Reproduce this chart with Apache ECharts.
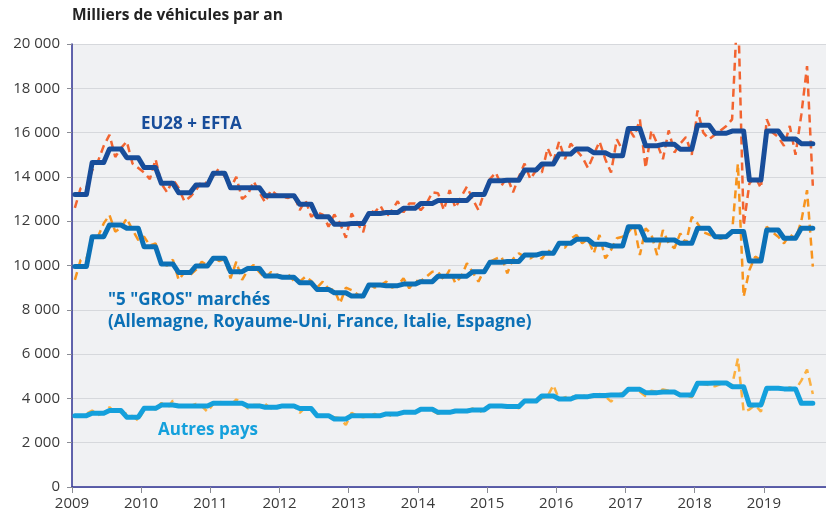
<!DOCTYPE html>
<html><head><meta charset="utf-8">
<script src="https://cdn.jsdelivr.net/npm/echarts@6/dist/echarts.min.js"></script>
<style>html,body{margin:0;padding:0;background:#fff}#c{width:826px;height:517px}</style>
</head><body><div id="c"></div>
<script>
// Monthly series Jan 2009 .. Sep 2019 (thousands of vehicles per year, annualised)
const startYear = 2009;
const yearTicks = [2009,2010,2011,2012,2013,2014,2015,2016,2017,2018,2019];

// Quarterly (seasonally adjusted) levels, 2009Q1 .. 2019Q3
const euQuarterly = [
  13200,14650,15260,14870, 14420,13710,13290,13630, 14160,13510,13510,13150,
  13150,12760,12200,11860, 11900,12350,12390,12580, 12800,12930,12930,13210,
  13830,13850,14310,14580, 15030,15260,15090,14960, 16190,15410,15470,15250,
  16330,15970,16070,13860, 16070,15710,15500];
const bigQuarterly = [
  9950,11300,11830,11680, 10850,10070,9680,9980, 10330,9720,9870,9530,
  9470,9220,8920,8770, 8620,9120,9090,9160, 9270,9520,9520,9720,
  10150,10180,10470,10550, 11000,11180,10960,10880, 11750,11150,11150,11000,
  11680,11300,11530,10200, 11600,11230,11680];
const otherQuarterly = [
  3220,3330,3450,3150, 3550,3700,3660,3660, 3780,3780,3660,3600,
  3660,3540,3220,3070, 3220,3220,3300,3370, 3510,3370,3430,3480,
  3660,3630,3880,4110, 3970,4080,4130,4150, 4410,4260,4290,4150,
  4680,4700,4530,3700, 4460,4430,3780];

// Monthly raw values
const euMonthly = [
  12600,13500,13500,14300,14700,15400,15900,14900,15300,15600,14600,14400,
  14200,13900,14800,13700,13300,13900,13500,12900,13100,13400,13800,13700,
  14000,14400,14000,13500,14000,13000,13200,13800,13300,12850,13400,13200,
  13100,13050,13200,12500,12950,12200,12400,12300,11750,12300,11900,11250,
  12350,11900,11500,12500,12400,12700,12200,12500,12900,12400,12800,12800,
  12500,12800,13300,13260,12500,13400,12600,13100,13560,13000,12500,13300,
  13900,14200,13600,14000,13300,14000,14600,13900,14300,14200,15300,14700,
  15600,14800,15500,15200,14900,14400,15000,15600,14800,14200,15700,15200,
  16200,15800,16600,14400,16100,15500,14800,16100,15100,15500,15800,15000,
  17000,16000,15700,15900,16100,16300,16600,22000,11800,13700,14000,13500,
  16600,16000,15800,15400,16300,15000,16800,19000,13600];
const bigMonthly = [
  9350,10250,10300,11150,11300,11900,12280,11530,11700,12130,11600,11150,
  11300,10900,11000,10100,10000,10260,9350,9700,9570,9800,10170,10000,
  10400,10200,10300,9420,10170,9350,9800,10020,9700,9420,9700,9600,
  9500,9600,9300,9270,9500,9300,9000,9270,8950,8900,8290,9000,
  8890,8700,8520,9200,9000,9100,9270,9000,9100,9420,8970,9300,
  9300,9500,9720,9700,9350,9800,9200,9500,10100,9700,9270,9800,
  10170,10300,10400,9650,10300,10550,10400,10320,10500,10300,10700,10500,
  11000,10800,11200,11380,11000,11200,10550,11380,10320,10700,11230,11300,
  11500,11830,10470,11680,11400,10470,11600,11000,10780,11450,11000,12200,
  11900,11500,11400,11300,11200,11300,11500,14600,8590,9800,10400,10250,
  11750,11500,11300,11000,11400,11200,12000,13400,9950];
const otherMonthly = [
  3250,3200,3300,3450,3250,3350,3600,3350,3400,3300,3200,3000,
  3500,3600,3500,3800,3550,3900,3650,3700,3650,3750,3650,3400,
  3750,3850,3800,3700,3950,3800,3550,3700,3700,3750,3550,3600,
  3650,3700,3650,3350,3600,3550,3250,3200,3200,3150,3100,2800,
  3350,3200,3150,3200,3300,3150,3300,3200,3300,3350,3400,3350,
  3550,3500,3450,3300,3400,3350,3500,3400,3450,3550,3350,3500,
  3700,3650,3700,3600,3650,3550,3900,3850,3900,4000,4100,4600,
  3950,4050,4100,4000,4150,4050,4050,4200,4100,3850,4150,4250,
  4350,4450,4300,4100,4350,4300,4400,4350,4300,4200,4150,4050,
  4750,4650,4600,4550,4650,4700,4600,5800,3400,3500,3700,3400,
  4450,4400,4450,4400,4500,4400,4800,5300,4200];

const NAVY = '#2e3192';
const monthX = i => startYear + (i + 0.5) / 12;
const monthlyPairs = arr => arr.map((v, i) => [monthX(i), v]);
const quarterlyPairs = (arr, n) => {
  const out = [];
  for (let i = 0; i < n; i++) out.push([monthX(i), arr[Math.floor(i / 3)]]);
  return out;
};
const N = euMonthly.length;
const fmt = v => String(v).replace(/\B(?=(\d{3})+(?!\d))/g, ' ');

const dashed = (name, data, color) => ({
  name, type: 'line', data: monthlyPairs(data), showSymbol: false, symbol: 'none',
  lineStyle: { color, width: 2.5, type: [8, 5] }, z: 2, animation: false
});
const solid = (name, data, color) => ({
  name, type: 'line', data: quarterlyPairs(data, N), showSymbol: false, symbol: 'none',
  lineStyle: { color, width: 5, cap: 'round', join: 'round' }, z: 3, animation: false
});

const FONT = '"Open Sans", "Noto Sans", sans-serif';
const chart = echarts.init(document.getElementById('c'), null, { renderer: 'canvas' });
chart.setOption({
  animation: false,
  grid: { left: 72, width: 761, top: 44, bottom: 30, show: true, backgroundColor: '#f0f1f3', borderWidth: 0,
          containLabel: false, outerBoundsMode: 'none' },
  xAxis: {
    type: 'value', min: 2009, max: 2020, interval: 1,
    axisLine: { show: true, onZero: false, lineStyle: { color: NAVY, width: 1.5 } },
    axisTick: { show: true, length: 6, lineStyle: { color: '#8a8c94' } },
    splitLine: { show: false },
    axisLabel: {
      color: '#3a3a3a', fontSize: 15, fontFamily: FONT, margin: 9,
      formatter: v => yearTicks.indexOf(Math.round(v)) >= 0 && Math.abs(v - Math.round(v)) < 1e-6 ? String(Math.round(v)) : ''
    }
  },
  yAxis: {
    type: 'value', min: 0, max: 20000, interval: 2000,
    axisLine: { show: true, lineStyle: { color: NAVY, width: 1.5 } },
    axisTick: { show: true, length: 5, lineStyle: { color: '#8a8c94' } },
    splitLine: { show: true, lineStyle: { color: '#d6d8dc', width: 1.2 } },
    axisLabel: { color: '#3a3a3a', fontSize: 15, fontFamily: FONT, margin: 12, formatter: fmt }
  },
  series: [
    dashed('Autres pays (mensuel)', otherMonthly, '#fbb040'),
    dashed('5 gros (mensuel)', bigMonthly, '#f7941e'),
    dashed('EU28 + EFTA (mensuel)', euMonthly, '#f26430'),
    solid('Autres pays', otherQuarterly, '#14a0dc'),
    solid('5 gros', bigQuarterly, '#0b70b6'),
    solid('EU28 + EFTA', euQuarterly, '#184d9a')
  ],
  graphic: [
    { type: 'text', left: 72, top: 8, style: { text: 'Milliers de véhicules par an', font: 'bold 15.5px ' + FONT, fill: '#222' } },
    { type: 'text', left: 141, top: 116, style: { text: 'EU28 + EFTA', font: 'bold 17px ' + FONT, fill: '#184d9a' } },
    { type: 'text', left: 108, top: 292, style: { text: '"5 "GROS" marchés', font: 'bold 17px ' + FONT, fill: '#0b70b6' } },
    { type: 'text', left: 108, top: 314, style: { text: '(Allemagne, Royaume-Uni, France, Italie, Espagne)', font: 'bold 17px ' + FONT, fill: '#0b70b6' } },
    { type: 'text', left: 158, top: 422, style: { text: 'Autres pays', font: 'bold 17px ' + FONT, fill: '#14a0dc' } }
  ]
});
</script></body></html>
